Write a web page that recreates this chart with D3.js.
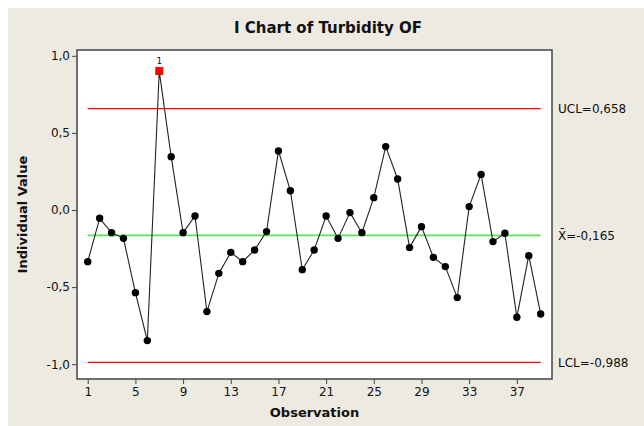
<!DOCTYPE html>
<html>
<head>
<meta charset="utf-8">
<script src="https://cdn.jsdelivr.net/npm/d3@7/dist/d3.min.js"></script>
<style>
  body { margin: 0; background: #fff; }
  text { font-family: "DejaVu Sans", sans-serif; fill: #111; }
</style>
</head>
<body>
<div id="chart"></div>
<script>
// individual values, observations 1..39
var values = [-0.335, -0.054, -0.147, -0.184, -0.536, -0.847, 0.901, 0.346, -0.147, -0.039,
              -0.659, -0.411, -0.275, -0.335, -0.259, -0.140, 0.383, 0.125, -0.387, -0.259,
              -0.039, -0.184, -0.017, -0.147, 0.080, 0.411, 0.201, -0.244, -0.108, -0.307,
              -0.367, -0.568, 0.022, 0.231, -0.205, -0.151, -0.696, -0.296, -0.674];
var flagged = [7];          // observations failing test 1
var xTicks = [1, 5, 9, 13, 17, 21, 25, 29, 33, 37];
var yTicks = [-1.0, -0.5, 0.0, 0.5, 1.0];
var limits = [
  {name: "UCL", value: 0.658, label: "UCL=0,658", color: "#ff0000"},
  {name: "X", value: -0.165, label: "X\u0304=-0,165", color: "#55e655"},
  {name: "LCL", value: -0.988, label: "LCL=-0,988", color: "#ff0000"}
];

var W = 644, H = 426;
var margin = {top: 50, right: 92, bottom: 47, left: 77},
    width = W - margin.left - margin.right,
    height = H - margin.top - margin.bottom;

var fmt = function(v) { return d3.format(".1f")(v).replace(".", ",").replace("\u2212", "-"); };

var svg = d3.select("#chart").append("svg")
    .attr("width", W)
    .attr("height", H);

// beige panel
svg.append("rect")
    .attr("x", 8).attr("y", 8)
    .attr("width", W - 8).attr("height", H - 8)
    .attr("fill", "#edeae1");

svg.append("text")
    .attr("x", 328).attr("y", 33)
    .attr("text-anchor", "middle")
    .attr("font-size", "15px")
    .attr("font-weight", "bold")
    .text("I Chart of Turbidity OF");

var g = svg.append("g")
    .attr("transform", "translate(" + margin.left + "," + margin.top + ")");

var x = d3.scaleLinear().domain([0.1, 39.95]).range([0, width]);
var y = d3.scaleLinear().domain([-1.096, 1.0376]).range([height, 0]);

g.append("rect")
    .attr("width", width).attr("height", height)
    .attr("fill", "#fff");

// control limits
g.selectAll("line.limit")
    .data(limits)
    .enter().append("line")
    .attr("class", "limit")
    .attr("x1", x(1)).attr("x2", x(values.length))
    .attr("y1", function(d) { return y(d.value); })
    .attr("y2", function(d) { return y(d.value); })
    .attr("stroke", function(d) { return d.color; })
    .attr("stroke-width", function(d) { return d.name == "X" ? 1.8 : 1.2; });

g.selectAll("text.limit-label")
    .data(limits)
    .enter().append("text")
    .attr("class", "limit-label")
    .attr("x", width + 6)
    .attr("y", function(d) { return y(d.value); })
    .attr("dy", "0.35em")
    .attr("font-size", "12px")
    .text(function(d) { return d.label; });

// series line
var line = d3.line()
    .x(function(d, i) { return x(i + 1); })
    .y(function(d) { return y(d); });

g.append("path")
    .datum(values)
    .attr("fill", "none")
    .attr("stroke", "#222")
    .attr("stroke-width", 1.1)
    .attr("d", line);

var pts = values.map(function(v, i) { return {obs: i + 1, v: v}; });

g.selectAll("circle.pt")
    .data(pts.filter(function(d) { return flagged.indexOf(d.obs) < 0; }))
    .enter().append("circle")
    .attr("class", "pt")
    .attr("cx", function(d) { return x(d.obs); })
    .attr("cy", function(d) { return y(d.v); })
    .attr("r", 3.7)
    .attr("fill", "#000");

var bad = pts.filter(function(d) { return flagged.indexOf(d.obs) >= 0; });
g.selectAll("rect.bad")
    .data(bad)
    .enter().append("rect")
    .attr("class", "bad")
    .attr("x", function(d) { return x(d.obs) - 4; })
    .attr("y", function(d) { return y(d.v) - 4; })
    .attr("width", 8).attr("height", 8)
    .attr("fill", "#ff0000");

g.selectAll("text.test")
    .data(bad)
    .enter().append("text")
    .attr("class", "test")
    .attr("x", function(d) { return x(d.obs); })
    .attr("y", function(d) { return y(d.v) - 7; })
    .attr("text-anchor", "middle")
    .attr("font-size", "9px")
    .text("1");

// frame
g.append("rect")
    .attr("width", width).attr("height", height)
    .attr("fill", "none")
    .attr("stroke", "#444")
    .attr("stroke-width", 1.5);

// axes
var xAxis = g.append("g")
    .attr("transform", "translate(0," + height + ")")
    .call(d3.axisBottom(x).tickValues(xTicks).tickSize(5).tickSizeOuter(0).tickFormat(d3.format("d")));
var yAxis = g.append("g")
    .call(d3.axisLeft(y).tickValues(yTicks).tickSize(5).tickSizeOuter(0).tickFormat(fmt));

[xAxis, yAxis].forEach(function(a) {
  a.select(".domain").remove();
  a.selectAll("line").attr("stroke", "#444");
  a.selectAll("text").attr("font-size", "12px").attr("fill", "#111")
    .style("font-family", "DejaVu Sans, sans-serif");
});
yAxis.selectAll("text").attr("x", -7);
xAxis.selectAll("text").attr("y", 8);

svg.append("text")
    .attr("x", margin.left + width / 2).attr("y", 417)
    .attr("text-anchor", "middle")
    .attr("font-size", "13px")
    .attr("font-weight", "bold")
    .text("Observation");

svg.append("text")
    .attr("transform", "translate(27," + (margin.top + height / 2) + ") rotate(-90)")
    .attr("text-anchor", "middle")
    .attr("font-size", "13px")
    .attr("font-weight", "bold")
    .text("Individual Value");
</script>
</body>
</html>
